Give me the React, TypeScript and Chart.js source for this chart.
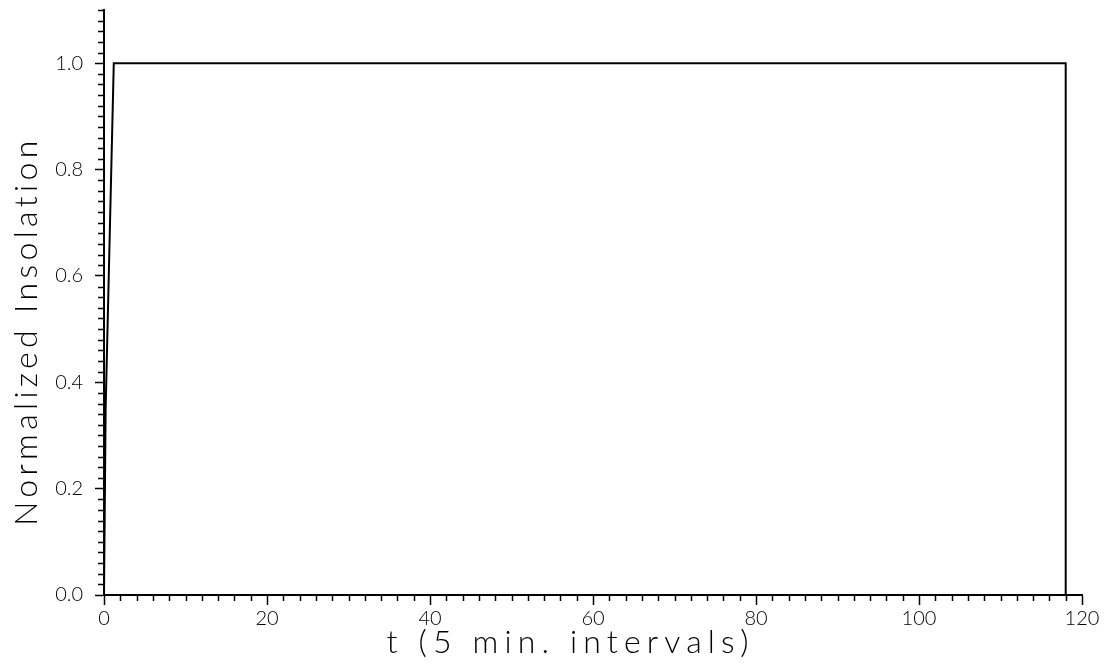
import React, { useEffect, useRef } from "react";
import { Chart, registerables } from "chart.js";

Chart.register(...registerables);

// Data: time (5-min intervals) and normalized insolation
const T_VALUES = [0, 0.2, 1.2, 118, 118];
const INSOLATION = [0, 0.35, 1.0, 1.0, 0];

const X_MIN = 0;
const X_MAX = 120;
const X_MAJOR = 20;
const X_MINOR = 2;
const Y_MIN = 0;
const Y_MAX = 1.1;
const Y_LABEL_MAX = 1.0;
const Y_MAJOR = 0.2;
const Y_MINOR = 0.02;

const X_TITLE = "t (5 min. intervals)";
const Y_TITLE = "Normalized Insolation";

const FONT_FAMILY = "Lato, 'Liberation Sans', sans-serif";

export default function App() {
  const ref = useRef<HTMLCanvasElement | null>(null);

  useEffect(() => {
    document.body.style.margin = "0";
    const canvas = ref.current!;

    const fitText = (ctx: CanvasRenderingContext2D, text: string, target: number) => {
      (ctx as any).letterSpacing = "0px";
      const w0 = ctx.measureText(text).width;
      const sp = (target - w0) / text.length;
      (ctx as any).letterSpacing = `${sp}px`;
    };

    const extras = {
      id: "extras",
      afterDraw(chart: any) {
        const ctx: CanvasRenderingContext2D = chart.ctx;
        const xs = chart.scales.x;
        const ys = chart.scales.y;
        const area = chart.chartArea;
        ctx.save();
        ctx.strokeStyle = "#000";
        ctx.lineWidth = 1.5;
        ctx.beginPath();
        for (let i = 0; ; i++) {
          const v = X_MIN + i * X_MINOR;
          if (v > X_MAX + 1e-9) break;
          const r = v / X_MAJOR;
          if (Math.abs(r - Math.round(r)) < 1e-6) continue;
          const px = Math.round(xs.getPixelForValue(v)) + 0.5;
          ctx.moveTo(px, area.bottom);
          ctx.lineTo(px, area.bottom + 6);
        }
        for (let i = 0; ; i++) {
          const v = Y_MIN + i * Y_MINOR;
          if (v > Y_MAX + 1e-9) break;
          const r = v / Y_MAJOR;
          if (Math.abs(r - Math.round(r)) < 1e-6 && v <= Y_LABEL_MAX + 1e-9) continue;
          const py = Math.round(ys.getPixelForValue(v)) + 0.5;
          ctx.moveTo(area.left - 6, py);
          ctx.lineTo(area.left, py);
        }
        ctx.stroke();

        ctx.fillStyle = "#000";
        ctx.font = `300 32px ${FONT_FAMILY}`;
        ctx.textAlign = "center";
        ctx.textBaseline = "alphabetic";
        fitText(ctx, X_TITLE, 368);
        ctx.fillText(X_TITLE, xs.getPixelForValue(57) + 2, 653);

        ctx.translate(37, ys.getPixelForValue(0.5) + 2);
        ctx.rotate(-Math.PI / 2);
        fitText(ctx, Y_TITLE, 390);
        ctx.fillText(Y_TITLE, 0, 0);
        ctx.restore();
      },
    };

    const chart = new Chart(canvas, {
      type: "line",
      data: {
        datasets: [
          {
            data: T_VALUES.map((t, i) => ({ x: t, y: INSOLATION[i] })),
            borderColor: "#000",
            borderWidth: 2,
            pointRadius: 0,
            tension: 0,
            fill: false,
          },
        ],
      },
      options: {
        responsive: false,
        animation: false,
        events: [],
        layout: { padding: { top: 10, right: 28, left: 0, bottom: 0 } },
        plugins: { legend: { display: false }, tooltip: { enabled: false } },
        scales: {
          x: {
            type: "linear",
            min: X_MIN,
            max: X_MAX,
            ticks: {
              stepSize: X_MAJOR,
              color: "#000",
              padding: 2,
              font: { family: FONT_FAMILY, size: 20, weight: "300" as any },
              maxRotation: 0,
            },
            grid: { drawOnChartArea: false, tickLength: 10, tickColor: "#000", tickWidth: 1.5 },
            border: { color: "#000", width: 2 },
            afterFit(scale: any) {
              scale.height = 73;
              scale.paddingLeft = 0;
              scale.paddingRight = 0;
              scale.paddingTop = 0;
              scale.paddingBottom = 0;
            },
          },
          y: {
            type: "linear",
            min: Y_MIN,
            max: Y_MAX,
            afterBuildTicks(scale: any) {
              scale.ticks = scale.ticks.filter((t: any) => t.value <= Y_LABEL_MAX + 1e-9);
            },
            ticks: {
              stepSize: Y_MAJOR,
              color: "#000",
              padding: 12,
              font: { family: FONT_FAMILY, size: 20, weight: "300" as any },
              callback: (v: any) => Number(v).toFixed(1),
            },
            grid: { drawOnChartArea: false, tickLength: 9, tickColor: "#000", tickWidth: 1.5 },
            border: { color: "#000", width: 2 },
            afterFit(scale: any) {
              scale.width = 104;
              scale.paddingLeft = 0;
              scale.paddingRight = 0;
              scale.paddingTop = 0;
              scale.paddingBottom = 0;
            },
          },
        },
      },
      plugins: [extras],
    });

    return () => chart.destroy();
  }, []);

  return (
    <div style={{ position: "fixed", left: 0, top: 0, width: 1110, height: 668, background: "#fff" }}>
      <canvas ref={ref} width={1110} height={668} style={{ width: 1110, height: 668 }} />
    </div>
  );
}
